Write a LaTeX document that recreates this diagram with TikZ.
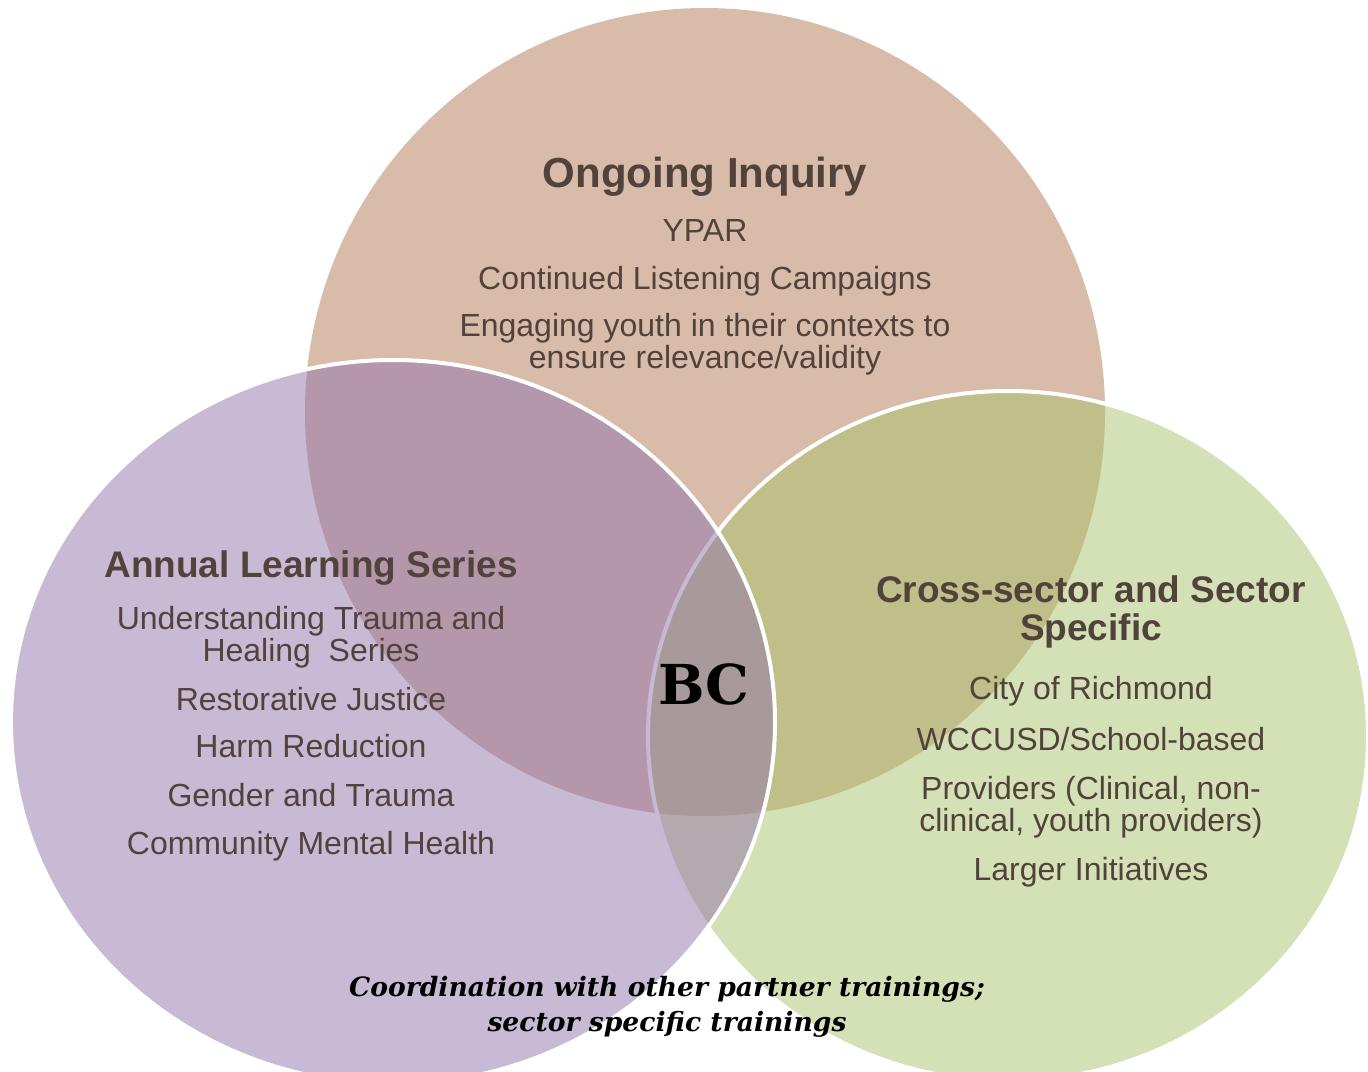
\documentclass[tikz,border=0pt]{standalone}
\usepackage{fontspec}
\setmainfont{Liberation Sans}
\newfontfamily\slabfont{DejaVu Serif}
\usetikzlibrary{positioning}

\definecolor{inquirytan}{RGB}{217,187,169}
\definecolor{learningplum}{RGB}{145,117,171}
\definecolor{sectorgreen}{RGB}{169,193,107}
\definecolor{textbrown}{RGB}{82,66,60}

\begin{document}
\begin{tikzpicture}[
    x=0.5pt, y=-0.5pt,
    venn/.style={draw=white, line width=2pt, fill opacity=0.5},
    head/.style={font=\bfseries\fontsize{18.5}{19}\selectfont, text=textbrown, align=center, inner sep=0pt, anchor=base},
    item/.style={font=\fontsize{16}{16}\selectfont, text=textbrown, align=center, inner sep=0pt},
    slab/.style={font=\slabfont\bfseries\fontsize{27.5}{28}\selectfont, inner sep=0pt, anchor=base}
]
    \useasboundingbox (0,0) rectangle (1368,1071);
    \clip (0,0) rectangle (1368,1071);

    % Circles
    \fill[inquirytan] (705,412) ellipse [x radius=400, y radius=404];
    \path[venn, fill=sectorgreen] (1008,736) ellipse [x radius=360, y radius=345];
    \path[venn, fill=learningplum] (393,722) ellipse [x radius=382, y radius=362];

    % Ongoing Inquiry
    \node[head, font=\bfseries\fontsize{21}{21}\selectfont] (inquiry) at (705,187) {Ongoing Inquiry};
    \node[item, below=27pt of inquiry.base, anchor=base] (ypar) {YPAR};
    \node[item, below=24pt of ypar.base, anchor=base] (listening) {Continued Listening Campaigns};
    \node[item, below=39.5pt of listening.base, anchor=base] (contexts) {Engaging youth in their contexts to\\ensure relevance/validity};

    % Annual Learning Series
    \node[head] (learning) at (311,577) {Annual Learning Series};
    \node[item, below=42pt of learning.base, anchor=base] (trauma) {Understanding Trauma and\\Healing\ \ Series};
    \node[item, below=24.5pt of trauma.base, anchor=base] (justice) {Restorative Justice};
    \node[item, below=23.5pt of justice.base, anchor=base] (harm) {Harm Reduction};
    \node[item, below=24.5pt of harm.base, anchor=base] (gender) {Gender and Trauma};
    \node[item, below=24pt of gender.base, anchor=base] (mental) {Community Mental Health};

    % Cross-sector
    \node[head] (sector) at (1091,640) {Cross-sector and Sector\\Specific};
    \node[item, below=29.5pt of sector.base, anchor=base] (richmond) {City of Richmond};
    \node[item, below=25.5pt of richmond.base, anchor=base] (wccusd) {WCCUSD/School-based};
    \node[item, below=40.5pt of wccusd.base, anchor=base] (providers) {Providers (Clinical, non-\\clinical, youth providers)};
    \node[item, below=24.5pt of providers.base, anchor=base] (initiatives) {Larger Initiatives};

    % Centre and footer
    \node[slab] (bc) at (704,704) {BC};
    \node[slab, font=\slabfont\bfseries\itshape\fontsize{13.3}{17.5}\selectfont, align=center] (partners) at (667,1031) {Coordination with other partner trainings;\\sector specific trainings};

\end{tikzpicture}
\end{document}
